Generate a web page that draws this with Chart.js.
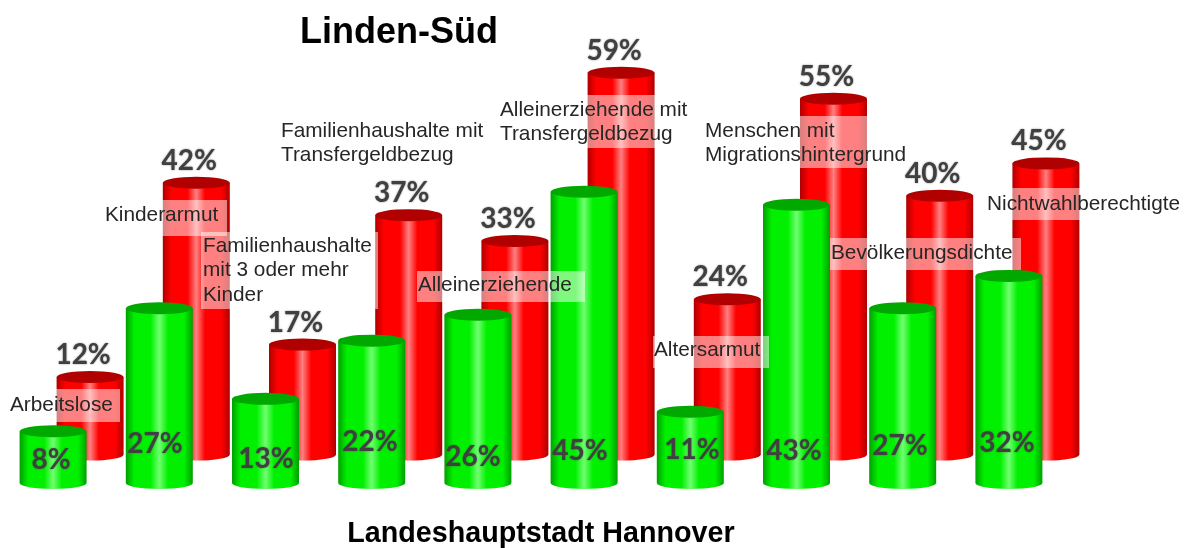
<!DOCTYPE html>
<html>
<head>
<meta charset="utf-8">
<title>Linden-Süd</title>
<script src="https://cdn.jsdelivr.net/npm/chart.js@4"></script>
<style>
  html, body { margin: 0; padding: 0; background: #fff; }
  canvas { display: block; }
</style>
</head>
<body>
<canvas id="myChart" width="1189" height="548"></canvas>
<script>
const categories = ['Arbeitslose', 'Familienhaushalte mit 3 oder mehr Kinder', 'Kinderarmut',
  'Familienhaushalte mit Transfergeldbezug', 'Alleinerziehende', 'Alleinerziehende mit Transfergeldbezug',
  'Altersarmut', 'Menschen mit Migrationshintergrund', 'Bevölkerungsdichte', 'Nichtwahlberechtigte'];
const redValues = [12, 42, 17, 37, 33, 59, 24, 55, 40, 45];
const greenValues = [8, 27, 13, 22, 26, 45, 11, 43, 27, 32];

// vertical position of the percent text inside the green bars, set by hand in the original
const greenLabelY = [460, 444, 459, 442, 457, 451, 450, 451, 446, 443];
const greenLabelX = [51, 155, 266, 370, 473, 580, 692, 794, 900, 1007];

// floating captions: lines, text left, text top centre, box x1/x2/y1/y2
const captions = [
  { lines: ['Arbeitslose'], x: 10, y: 405, box: [8, 120, 389, 422] },
  { lines: ['Kinderarmut'], x: 105, y: 215, box: [103, 227, 200, 236] },
  { lines: ['Familienhaushalte', 'mit 3 oder mehr', 'Kinder'], x: 203, y: 246, box: [201, 378, 232, 309] },
  { lines: ['Familienhaushalte mit', 'Transfergeldbezug'], x: 281, y: 131, box: [279, 486, 116, 168] },
  { lines: ['Alleinerziehende'], x: 418, y: 285, box: [417, 585, 271, 302] },
  { lines: ['Alleinerziehende mit', 'Transfergeldbezug'], x: 500, y: 110, box: [498, 691, 95, 148] },
  { lines: ['Altersarmut'], x: 654, y: 350, box: [653, 769, 336, 368] },
  { lines: ['Menschen mit', 'Migrationshintergrund'], x: 705, y: 131, box: [703, 908, 116, 168] },
  { lines: ['Bevölkerungsdichte'], x: 831, y: 253, box: [830, 1021, 238, 270] },
  { lines: ['Nichtwahlberechtigte'], x: 987, y: 204, box: [985, 1181, 188, 220] }
];

const red = { edge: '#b00000', mid: '#ff0000', light: '#ff8080', cap: '#b00000' };
const green = { edge: '#00a000', mid: '#00f000', light: '#70ff70', cap: '#00a800' };

function drawCylinder(ctx, cx, top, base, w, col) {
  const rx = w / 2, ry = 6;
  const g = ctx.createLinearGradient(cx - rx, 0, cx + rx, 0);
  g.addColorStop(0, col.edge);
  g.addColorStop(0.13, col.mid);
  g.addColorStop(0.37, col.mid);
  g.addColorStop(0.5, col.light);
  g.addColorStop(0.63, col.mid);
  g.addColorStop(0.87, col.mid);
  g.addColorStop(1, col.edge);
  ctx.fillStyle = g;
  ctx.beginPath();
  ctx.moveTo(cx - rx, top);
  ctx.lineTo(cx - rx, base);
  ctx.ellipse(cx, base, rx, ry, 0, Math.PI, 0, true);
  ctx.lineTo(cx + rx, top);
  ctx.closePath();
  ctx.fill();
  ctx.fillStyle = col.cap;
  ctx.beginPath();
  ctx.ellipse(cx, top, rx, ry, 0, 0, Math.PI * 2);
  ctx.fill();
}

const cylinders = {
  id: 'cylinders',
  afterDatasetsDraw(chart) {
    const ctx = chart.ctx;
    ctx.save();
    // Rote Reihe steht hinten, also zuerst zeichnen
    chart.getDatasetMeta(0).data.forEach(b => drawCylinder(ctx, b.x + 37, b.y - 28.4, b.base - 28.4, b.width, red));
    chart.getDatasetMeta(1).data.forEach(b => drawCylinder(ctx, b.x, b.y, b.base, b.width, green));

    ctx.textAlign = 'center';
    ctx.textBaseline = 'middle';
    ctx.font = 'bold 28px Lato';
    ctx.fillStyle = '#404040';
    ctx.shadowColor = 'rgba(64,64,64,0.6)';
    ctx.shadowBlur = 2;
    chart.getDatasetMeta(0).data.forEach((b, i) => {
      ctx.fillText(redValues[i] + '%', b.x + 30, b.y - 28.4 - 22);
    });
    chart.getDatasetMeta(1).data.forEach((b, i) => {
      ctx.fillText(greenValues[i] + '%', greenLabelX[i], greenLabelY[i]);
    });
    ctx.shadowBlur = 0;
    ctx.shadowColor = 'transparent';

    captions.forEach(c => {
      ctx.fillStyle = 'rgba(255,255,255,0.5)';
      ctx.fillRect(c.box[0], c.box[2], c.box[1] - c.box[0], c.box[3] - c.box[2]);
      ctx.fillStyle = '#262626';
      ctx.font = '20.8px "Liberation Sans"';
      ctx.textAlign = 'left';
      c.lines.forEach((t, i) => ctx.fillText(t, c.x, c.y + i * 24.5));
    });

    ctx.fillStyle = '#000';
    ctx.textAlign = 'center';
    ctx.font = 'bold 36px "Liberation Sans"';
    ctx.fillText('Linden-Süd', 399, 33);
    ctx.font = 'bold 28.7px "Liberation Sans"';
    ctx.fillText('Landeshauptstadt Hannover', 541, 534);
    ctx.restore();
  }
};

const chart = new Chart(document.getElementById('myChart'), {
  type: 'bar',
  data: {
    labels: categories,
    datasets: [
      { label: 'Linden-Süd', data: redValues, backgroundColor: 'transparent', barThickness: 67 },
      { label: 'Landeshauptstadt Hannover', data: greenValues, backgroundColor: 'transparent', barThickness: 67 }
    ]
  },
  options: {
    responsive: false,
    animation: false,
    layout: { padding: { left: 0, right: 127, top: 30, bottom: 65 } },
    plugins: { legend: { display: false }, title: { display: false }, tooltip: { enabled: false } },
    datasets: { bar: { grouped: false } },
    scales: {
      x: { display: false },
      y: { display: false, min: 0, max: 70 }
    }
  },
  plugins: [cylinders]
});
</script>
</body>
</html>
